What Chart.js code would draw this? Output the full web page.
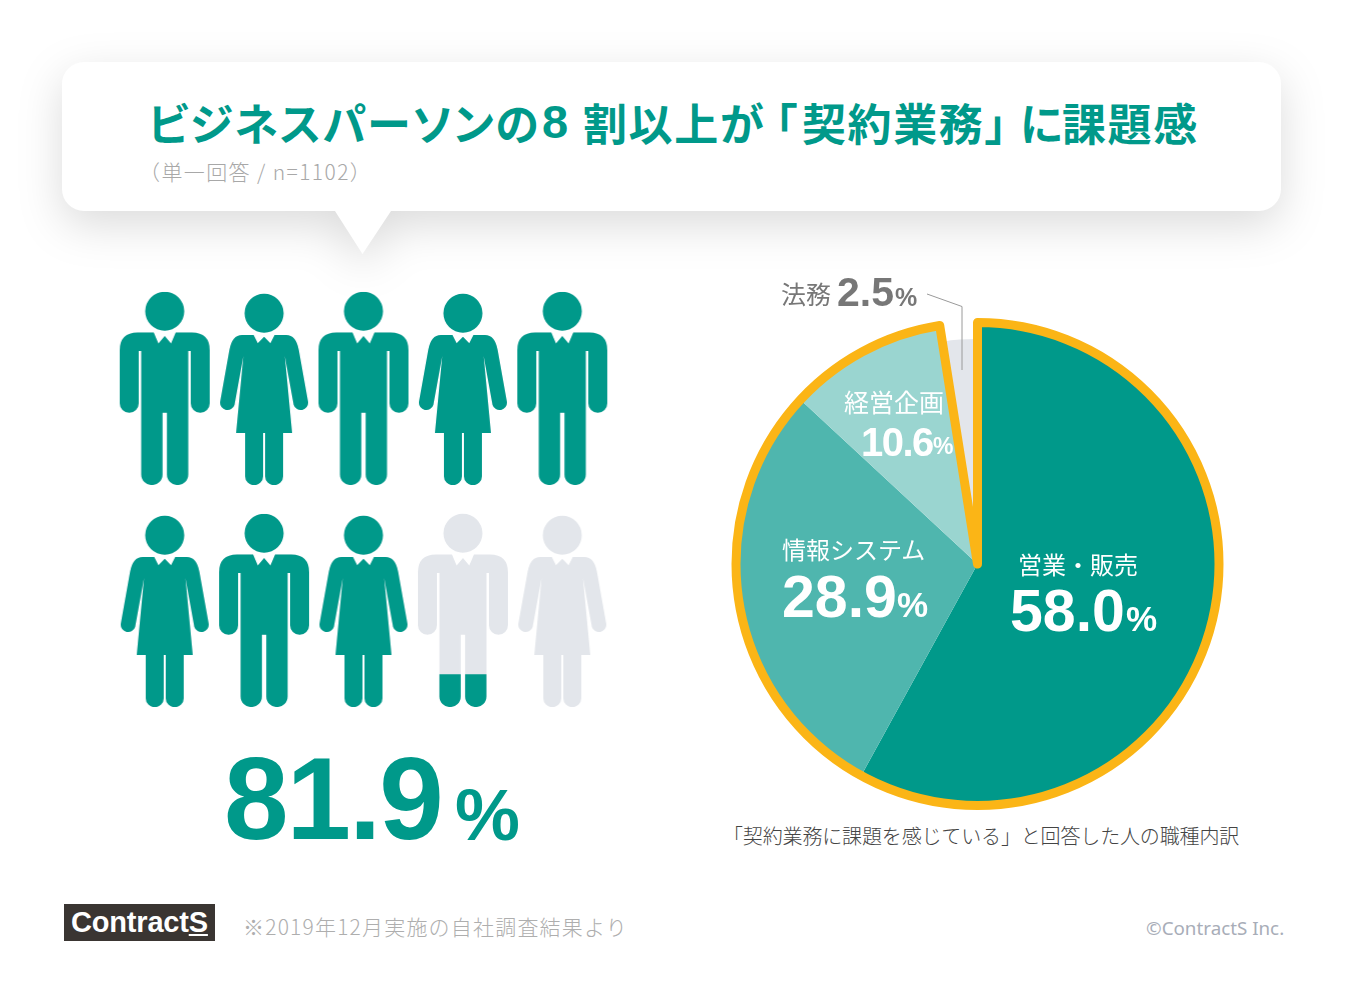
<!DOCTYPE html>
<html lang="ja">
<head>
<meta charset="UTF-8">
<title>ビジネスパーソンの8割以上が「契約業務」に課題感</title>
<style>
  html, body { margin: 0; padding: 0; background: #fff; }
  body { position: relative; width: 1361px; height: 1003px; overflow: hidden; font-family: "Noto Sans CJK JP", sans-serif; }
  .t { position: absolute; white-space: nowrap; line-height: 1; }
  .num { font-family: "Liberation Sans", Arial, sans-serif; font-weight: 700; }
  canvas { position: absolute; }
  #bubble { position: absolute; left: 0; top: 0; filter: drop-shadow(0 14px 22px rgba(0,0,0,.14)); }
  #title { left: 0; top: 100px; width: 1361px; height: 50px; font-size: 44px; font-weight: 700; color: #00998a; font-feature-settings: "palt"; letter-spacing: 1.6px; }
  #title span { position: absolute; top: 0; }
  #sub { left: 139px; top: 161px; font-size: 21px; color: #a8a8a8; font-weight: 300; letter-spacing: 1.4px; }
  #bigNum { left: 224px; top: 741px; font-size: 116px; letter-spacing: -2px; color: #00998a; }
  #bigPct { left: 455px; top: 778px; font-size: 73px; color: #00998a; }
  #caption { left: 723px; top: 826px; font-size: 20px; color: #444; font-weight: 300; letter-spacing: -.15px; }
  #logo { position: absolute; left: 64px; top: 904px; width: 151px; height: 37px; background: #3a3532; color: #fff; font: 700 29px/37px "Liberation Sans", Arial, sans-serif; text-align: center; letter-spacing: -.2px; }
  #logo u { text-underline-offset: 2px; }
  #note { left: 243px; top: 916px; font-size: 21px; color: #aeaeae; font-weight: 300; letter-spacing: 1.2px; }
  #copy { left: 1146px; top: 919px; font-family: "Noto Sans", sans-serif; font-size: 18.8px; color: #a8adb8; }
  #leader { position: absolute; left: 0; top: 0; pointer-events: none; }
</style>
</head>
<body>
<svg id="bubble" width="1361" height="300">
  <path fill="#fff" d="M84 62H1259a22 22 0 0 1 22 22V189a22 22 0 0 1 -22 22H391L362.5 254L335 211H84a22 22 0 0 1 -22 -22V84a22 22 0 0 1 22 -22Z"/>
</svg>
<div class="t" id="title"><span style="left:148px">ビジネスパーソンの</span><span class="num" style="left:542px;font-size:47px;top:-2px">8</span><span style="left:583px">割以上が</span><span style="left:775px">「</span><span style="left:802px">契約業務</span><span style="left:985px">」</span><span style="left:1020px">に</span><span style="left:1062px">課題感</span></div>
<div class="t" id="sub">（単一回答 / n=1102）</div>

<canvas id="people" width="497" height="444" style="left:115px;top:274px"></canvas>
<div class="t num" id="bigNum"></div>
<div class="t num" id="bigPct">%</div>

<canvas id="pie" width="501" height="500" style="left:727px;top:314px"></canvas>
<svg id="leader" width="1361" height="500"><path d="M927 294L962 306.5V370" fill="none" stroke="#9a9a9a" stroke-width="1"/></svg>
<div id="pieLabels"></div>
<div class="t" id="caption">「契約業務に課題を感じている」と回答した人の職種内訳</div>

<div id="logo">Contract<u>S</u></div>
<div class="t" id="note">※2019年12月実施の自社調査結果より</div>
<div class="t" id="copy">©ContractS Inc.</div>

<script src="https://cdn.jsdelivr.net/npm/chart.js"></script>
<script>
// pie data
const jobNames = ['営業・販売', '情報システム', '経営企画', '法務'];
const jobValues = [58.0, 28.9, 10.6, 2.5];
const jobColors = ['#00998a', '#4fb6ae', '#9ad5d0', '#e3e6eb'];

// people pictogram: 10 people, 81.9% coloured in from the feet up
const totalPercent = 81.9;
const personKinds = ['m', 'f', 'm', 'f', 'm', 'f', 'm', 'f', 'm', 'f'];
const personFill = [1, 1, 1, 1, 1, 1, 1, 1, 0.17, 0];

const TEAL = '#00998a';
const GREY = '#e3e6eb';
const YELLOW = '#fbb516';

// glyph outlines, x from the middle of the figure, y from 0 to 193 (feet)
const manPath = 'M-11 40.5L-6.3 51.5L0 44L6.3 51.5L11 40.5L27 40.5Q45 40.5 45 58.5L45 111.2A9.5 9.5 0 0 1 26 111.2L26 59L23.5 59L23.5 182.4A10.65 10.65 0 0 1 2.2 182.4L2.2 120.7L-2.2 120.7L-2.2 182.4A10.65 10.65 0 0 1 -23.5 182.4L-23.5 59L-26 59L-26 111.2A9.5 9.5 0 0 1 -45 111.2L-45 58.5Q-45 40.5 -27 40.5Z' +
  'M19.5 19.3A19.5 19.5 0 1 1 -19.5 19.3A19.5 19.5 0 1 1 19.5 19.3Z';
const womanPath = 'M-10.5 43L-6.3 51.3L0 44.7L6.3 51.3L10.5 43L22 43Q32 43 34.7 58L44 110A7.4 7.4 0 0 1 29.6 113L20.7 64L28 141L19 141L19 184.2A9 9 0 0 1 1 184.2L1 141L-1 141L-1 184.2A9 9 0 0 1 -19 184.2L-19 141L-28 141L-20.7 64L-29.6 113A7.4 7.4 0 0 1 -44 110L-34.7 58Q-32 43 -22 43Z' +
  'M19.5 21.3A19.5 19.5 0 1 1 -19.5 21.3A19.5 19.5 0 1 1 19.5 21.3Z';

function makePersonIcon(kind, fill) {
  const c = document.createElement('canvas');
  c.width = 96;
  c.height = 200;
  const ctx = c.getContext('2d');
  ctx.translate(48, 7);
  const p = new Path2D(kind === 'm' ? manPath : womanPath);
  ctx.fillStyle = GREY;
  ctx.fill(p);
  if (fill > 0) {
    ctx.save();
    ctx.beginPath();
    ctx.rect(-48, 193 * (1 - fill), 96, 193 * fill);
    ctx.clip();
    ctx.fillStyle = TEAL;
    ctx.fill(p);
    ctx.restore();
  }
  return c;
}

new Chart(document.getElementById('people'), {
  type: 'scatter',
  data: {
    datasets: [{
      data: personKinds.map((k, i) => ({ x: i % 5, y: Math.floor(i / 5) })),
      pointStyle: personKinds.map((k, i) => makePersonIcon(k, personFill[i])),
      pointRadius: 1,
      clip: false
    }]
  },
  options: {
    responsive: false,
    animation: false,
    events: [],
    layout: { autoPadding: false },
    plugins: { legend: { display: false }, tooltip: { enabled: false } },
    scales: {
      x: { display: false, min: -0.5, max: 4.5 },
      y: { display: false, min: -0.5, max: 1.5, reverse: true }
    }
  }
});

// the small slice is drawn shorter, and the yellow outline leaves it out
const piePlugin = {
  id: 'outline',
  beforeDatasetsDraw(chart) {
    const meta = chart.getDatasetMeta(0);
    meta.data[3].outerRadius = meta.controller.outerRadius * 0.932;
  },
  afterDatasetsDraw(chart) {
    const arcs = chart.getDatasetMeta(0).data;
    const ctx = chart.ctx;
    ctx.save();
    ctx.beginPath();
    ctx.moveTo(arcs[0].x, arcs[0].y);
    ctx.arc(arcs[0].x, arcs[0].y, arcs[0].outerRadius, arcs[0].startAngle, arcs[2].endAngle);
    ctx.closePath();
    ctx.lineWidth = 9;
    ctx.lineJoin = 'round';
    ctx.strokeStyle = YELLOW;
    ctx.stroke();
    ctx.restore();
  }
};

new Chart(document.getElementById('pie'), {
  type: 'pie',
  data: {
    labels: jobNames,
    datasets: [{ data: jobValues, backgroundColor: jobColors, borderWidth: 0 }]
  },
  options: {
    responsive: false,
    animation: false,
    events: [],
    layout: { padding: { left: 9, right: 9, top: 8.5, bottom: 8.5 } },
    plugins: { legend: { display: false }, tooltip: { enabled: false } }
  },
  plugins: [piePlugin]
});

// hand placed labels: name left/top, number left/top, sizes, colour
const labelSpots = [
  { nx: 1018, ny: 552, ns: 24, vx: 1010, vy: 582, vs: 59, sp: 0, px: 1126, py: 601, ps: 35, c: '#fff' },
  { nx: 782, ny: 537, ns: 24, vx: 782, vy: 568, vs: 59, sp: 0, px: 897, py: 587, ps: 35, c: '#fff' },
  { nx: 844, ny: 389, ns: 25, vx: 861, vy: 422, vs: 40, sp: -1.5, px: 933, py: 435, ps: 23, c: '#fff' },
  { nx: 781, ny: 281, ns: 25, vx: 837, vy: 272, vs: 41, sp: 0, px: 895, py: 285, ps: 25, c: '#777' }
];

function addText(cls, text, x, y, size, color, spacing) {
  const d = document.createElement('div');
  d.className = cls;
  d.textContent = text;
  d.style.cssText = 'left:' + x + 'px;top:' + y + 'px;font-size:' + size + 'px;color:' + color + ';letter-spacing:' + spacing + 'px';
  document.getElementById('pieLabels').appendChild(d);
}

jobNames.forEach((name, i) => {
  const s = labelSpots[i];
  addText('t', name, s.nx, s.ny, s.ns, s.c, 0);
  addText('t num', jobValues[i].toFixed(1), s.vx, s.vy, s.vs, s.c, s.sp);
  addText('t num', '%', s.px, s.py, s.ps, s.c, 0);
});

document.getElementById('bigNum').textContent = totalPercent.toFixed(1);
</script>
</body>
</html>
